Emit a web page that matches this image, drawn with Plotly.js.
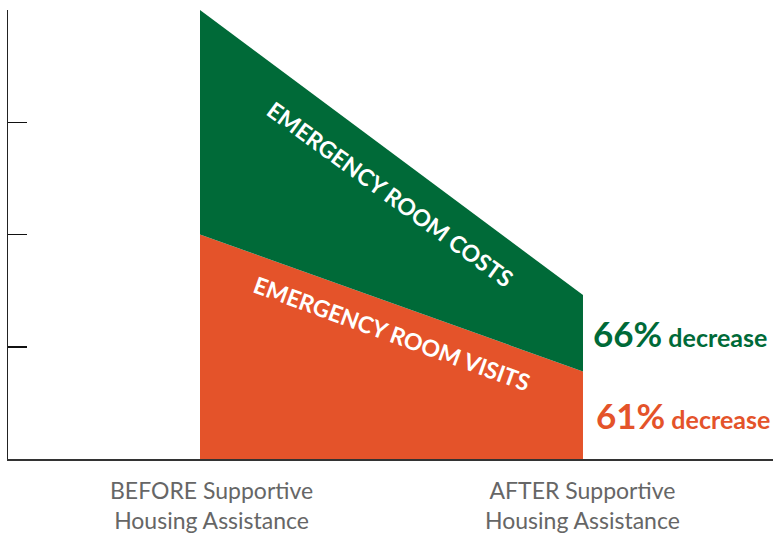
<!DOCTYPE html>
<html>
<head>
<meta charset="utf-8">
<script src="https://cdn.plot.ly/plotly-3.0.1.min.js"></script>
<style>html,body{margin:0;padding:0;background:#fff;}#chart{width:773px;height:535px;}</style>
</head>
<body>
<div id="chart"></div>
<script>
// Data
const categories = ["BEFORE", "AFTER"];
const categoryLabels = ["BEFORE Supportive<br>Housing Assistance", "AFTER Supportive<br>Housing Assistance"];
const visitsValues = [2.0, 0.78];
const costsValues = [2.0, 0.68];
const seriesNames = ["EMERGENCY ROOM VISITS", "EMERGENCY ROOM COSTS"];
const decreaseLabels = ["61%", "66%"];
const yTicks = [0, 1, 2, 3, 4];

const GREEN = "#006a38";
const ORANGE = "#e4532a";
const FONT = "Lato, 'Open Sans', sans-serif";

const traces = [
  {x: categories, y: visitsValues, name: seriesNames[0], type: "scatter", mode: "none",
   stackgroup: "one", fillcolor: ORANGE, hoverinfo: "skip"},
  {x: categories, y: costsValues, name: seriesNames[1], type: "scatter", mode: "none",
   stackgroup: "one", fillcolor: GREEN, hoverinfo: "skip"}
];

const stackTop = costsValues.map((v, i) => v + visitsValues[i]);

const annotations = [
  // axis category labels
  {x: categories[0], y: 0, xref: "x", yref: "paper", yanchor: "top", xanchor: "center", xshift: 11, yshift: -15,
   text: categoryLabels[0], showarrow: false, align: "center", font: {family: FONT, size: 23, color: "#666666"}},
  {x: categories[1], y: 0, xref: "x", yref: "paper", yanchor: "top", xanchor: "center", xshift: 0, yshift: -15,
   text: categoryLabels[1], showarrow: false, align: "center", font: {family: FONT, size: 23, color: "#666666"}},
  // in-area labels
  {x: 0.497, y: (stackTop[0] + stackTop[1]) / 2 - 0.37, xref: "x", yref: "y", text: "<b>" + seriesNames[1] + "</b>",
   showarrow: false, textangle: 36, font: {family: FONT, size: 23, color: "#ffffff"}},
  {x: 0.5, y: (visitsValues[0] + visitsValues[1]) / 2 - 0.27, xref: "x", yref: "y", text: "<b>" + seriesNames[0] + "</b>",
   showarrow: false, textangle: 20, font: {family: FONT, size: 23, color: "#ffffff"}},
  // decrease labels
  {x: categories[1], y: (visitsValues[1] + stackTop[1]) / 2, xref: "x", yref: "y", xanchor: "left", xshift: 8,
   text: "<b><span style='font-size:35px'>" + decreaseLabels[1] + "</span> decrease</b>",
   showarrow: false, font: {family: FONT, size: 25, color: GREEN}},
  {x: categories[1], y: visitsValues[1] / 2, xref: "x", yref: "y", xanchor: "left", xshift: 11,
   text: "<b><span style='font-size:35px'>" + decreaseLabels[0] + "</span> decrease</b>",
   showarrow: false, font: {family: FONT, size: 25, color: ORANGE}}
];

const layout = {
  width: 773, height: 535,
  margin: {l: 8, r: 0, t: 10, b: 76, pad: 0},
  paper_bgcolor: "#ffffff", plot_bgcolor: "#ffffff",
  showlegend: false,
  xaxis: {type: "category", range: [-0.5013, 1.4961], showticklabels: false, ticks: "",
          showgrid: false, zeroline: false, showline: true, linecolor: "#333333", linewidth: 2, fixedrange: true},
  yaxis: {range: [0, 4], tickvals: yTicks, showticklabels: false, ticks: "inside", ticklen: 19,
          tickwidth: 1.5, tickcolor: "#111111", showgrid: false, zeroline: false, showline: true,
          linecolor: "#222222", linewidth: 1.5, fixedrange: true},
  annotations: annotations
};

Plotly.newPlot("chart", traces, layout, {staticPlot: true});
</script>
</body>
</html>
